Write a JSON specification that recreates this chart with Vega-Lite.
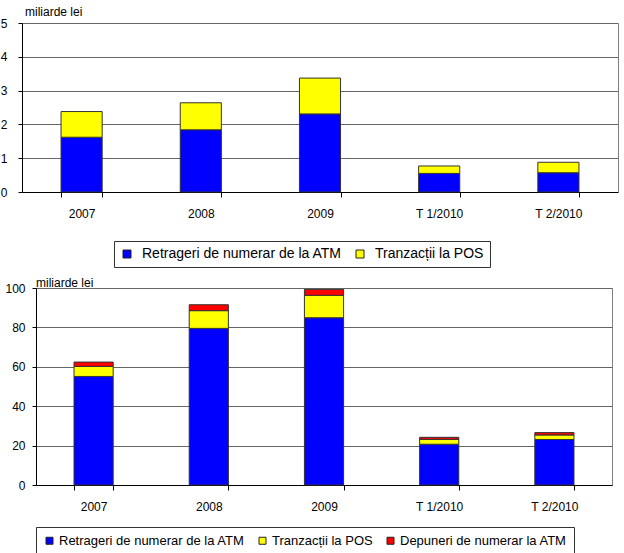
{
  "$schema": "https://vega.github.io/schema/vega-lite/v6.json",
  "padding": {"left": 0, "top": 6, "right": 3, "bottom": 0},
  "spacing": 8,
  "columns": 1,
  "background": "white",
  "resolve": {"scale": {"color": "independent"}, "legend": {"color": "independent"}},
  "config": {
    "font": "Liberation Sans",
    "view": {"stroke": "#808080", "strokeWidth": 1},
    "axis": {"labelFont": "Liberation Sans", "labelColor": "black", "domainColor": "black", "tickColor": "black", "title": null},
    "legend": {"labelFont": "Liberation Sans", "labelColor": "black"}
  },
  "datasets": {
    "sus": [
      {"perioada": "2007", "serie": "Retrageri de numerar de la ATM", "valoare": 1.62},
      {"perioada": "2007", "serie": "Tranzacții la POS", "valoare": 0.76},
      {"perioada": "2008", "serie": "Retrageri de numerar de la ATM", "valoare": 1.84},
      {"perioada": "2008", "serie": "Tranzacții la POS", "valoare": 0.80},
      {"perioada": "2009", "serie": "Retrageri de numerar de la ATM", "valoare": 2.31},
      {"perioada": "2009", "serie": "Tranzacții la POS", "valoare": 1.06},
      {"perioada": "T 1/2010", "serie": "Retrageri de numerar de la ATM", "valoare": 0.55},
      {"perioada": "T 1/2010", "serie": "Tranzacții la POS", "valoare": 0.22},
      {"perioada": "T 2/2010", "serie": "Retrageri de numerar de la ATM", "valoare": 0.57},
      {"perioada": "T 2/2010", "serie": "Tranzacții la POS", "valoare": 0.31}
    ],
    "jos": [
      {"perioada": "2007", "serie": "Retrageri de numerar de la ATM", "valoare": 55.1},
      {"perioada": "2007", "serie": "Tranzacții la POS", "valoare": 5.1},
      {"perioada": "2007", "serie": "Depuneri de numerar la ATM", "valoare": 2.2},
      {"perioada": "2008", "serie": "Retrageri de numerar de la ATM", "valoare": 79.5},
      {"perioada": "2008", "serie": "Tranzacții la POS", "valoare": 9.0},
      {"perioada": "2008", "serie": "Depuneri de numerar la ATM", "valoare": 3.0},
      {"perioada": "2009", "serie": "Retrageri de numerar de la ATM", "valoare": 84.9},
      {"perioada": "2009", "serie": "Tranzacții la POS", "valoare": 11.4},
      {"perioada": "2009", "serie": "Depuneri de numerar la ATM", "valoare": 3.0},
      {"perioada": "T 1/2010", "serie": "Retrageri de numerar de la ATM", "valoare": 20.7},
      {"perioada": "T 1/2010", "serie": "Tranzacții la POS", "valoare": 2.5},
      {"perioada": "T 1/2010", "serie": "Depuneri de numerar la ATM", "valoare": 1.0},
      {"perioada": "T 2/2010", "serie": "Retrageri de numerar de la ATM", "valoare": 23.1},
      {"perioada": "T 2/2010", "serie": "Tranzacții la POS", "valoare": 2.3},
      {"perioada": "T 2/2010", "serie": "Depuneri de numerar la ATM", "valoare": 1.2}
    ]
  },
  "concat": [
    {
      "data": {"name": "sus"},
      "width": 582,
      "height": 169,
      "view": {"stroke": null},
      "title": {"text": "miliarde lei", "anchor": "start", "frame": "group", "fontSize": 12, "fontWeight": "normal", "font": "Liberation Sans", "offset": -2, "dx": -11, "color": "black"},
      "transform": [
        {"calculate": "indexof(['Retrageri de numerar de la ATM', 'Tranzacții la POS'], datum.serie)", "as": "ordine"}
      ],
      "resolve": {"scale": {"y": "independent"}},
      "layer": [
        {
          "mark": {"type": "bar", "stroke": "#333333", "strokeWidth": 1},
          "encoding": {
            "x": {
              "field": "perioada", "type": "nominal", "sort": ["2007", "2008", "2009", "T 1/2010", "T 2/2010"],
              "scale": {"range": [-14, 582], "paddingInner": 0.655, "paddingOuter": 0.3275},
              "axis": {"labelAngle": 0, "labelFontSize": 12, "tickBand": "extent", "tickSize": 5, "labelPadding": 11, "domainColor": "black"}
            },
            "y": {
              "field": "valoare", "type": "quantitative", "stack": "zero",
              "scale": {"domain": [0, 5], "nice": false},
              "axis": {"values": [0, 1, 2, 3, 4, 5], "offset": 14, "labelFontSize": 12, "tickSize": 4, "labelPadding": 11, "gridColor": "#666666", "gridWidth": 1, "grid": true}
            },
            "order": {"field": "ordine", "type": "quantitative", "sort": "ascending"},
            "color": {
              "field": "serie", "type": "nominal",
              "scale": {"domain": ["Retrageri de numerar de la ATM", "Tranzacții la POS"], "range": ["#0000FF", "#FFFF00"]},
              "legend": {
                "title": null, "orient": "none", "legendX": 78, "legendY": 218, "direction": "horizontal", "columns": 2,
                "symbolType": "square", "symbolSize": 64, "symbolStrokeColor": "#222222", "symbolStrokeWidth": 1,
                "labelFontSize": 14, "labelOffset": 8, "columnPadding": 11, "padding": 6,
                "strokeColor": "#333333", "fillColor": "white", "labelLimit": 400
              }
            }
          }
        },
        {
          "mark": {"type": "bar", "opacity": 0},
          "encoding": {
            "x": {"field": "perioada", "type": "nominal", "sort": ["2007", "2008", "2009", "T 1/2010", "T 2/2010"]},
            "y": {
              "field": "valoare", "type": "quantitative", "stack": "zero",
              "scale": {"domain": [0, 5], "nice": false},
              "axis": {"orient": "right", "labels": false, "ticks": false, "grid": false, "domainColor": "#808080"}
            }
          }
        }
      ]
    },
    {
      "data": {"name": "jos"},
      "width": 576,
      "height": 197,
      "title": {"text": "miliarde lei", "anchor": "start", "frame": "group", "fontSize": 12, "fontWeight": "normal", "font": "Liberation Sans", "offset": -8, "dx": 0, "color": "black"},
      "transform": [
        {"calculate": "indexof(['Retrageri de numerar de la ATM', 'Tranzacții la POS', 'Depuneri de numerar la ATM'], datum.serie)", "as": "ordine"}
      ],
      "mark": {"type": "bar", "stroke": "#333333", "strokeWidth": 1},
      "encoding": {
        "x": {
          "field": "perioada", "type": "nominal", "sort": ["2007", "2008", "2009", "T 1/2010", "T 2/2010"],
          "scale": {"paddingInner": 0.66, "paddingOuter": 0.33},
          "axis": {"labelAngle": 0, "labelFontSize": 12, "tickBand": "extent", "tickSize": 5, "labelPadding": 11, "domainColor": "black"}
        },
        "y": {
          "field": "valoare", "type": "quantitative", "stack": "zero",
          "scale": {"domain": [0, 100], "nice": false},
          "axis": {"values": [0, 20, 40, 60, 80, 100], "labelFontSize": 12, "tickSize": 4, "labelPadding": 7, "gridColor": "#666666", "gridWidth": 1, "grid": true}
        },
        "order": {"field": "ordine", "type": "quantitative", "sort": "ascending"},
        "color": {
          "field": "serie", "type": "nominal",
          "scale": {"domain": ["Retrageri de numerar de la ATM", "Tranzacții la POS", "Depuneri de numerar la ATM"], "range": ["#0000FF", "#FFFF00", "#FF0000"]},
          "legend": {
            "title": null, "orient": "none", "legendX": 0, "legendY": 239, "direction": "horizontal", "columns": 3,
            "symbolType": "square", "symbolSize": 49, "symbolStrokeColor": "#222222", "symbolStrokeWidth": 1,
            "labelFontSize": 13, "labelOffset": 3, "columnPadding": 11, "padding": 7,
            "strokeColor": "#333333", "fillColor": "white", "labelLimit": 400
          }
        }
      }
    }
  ]
}
